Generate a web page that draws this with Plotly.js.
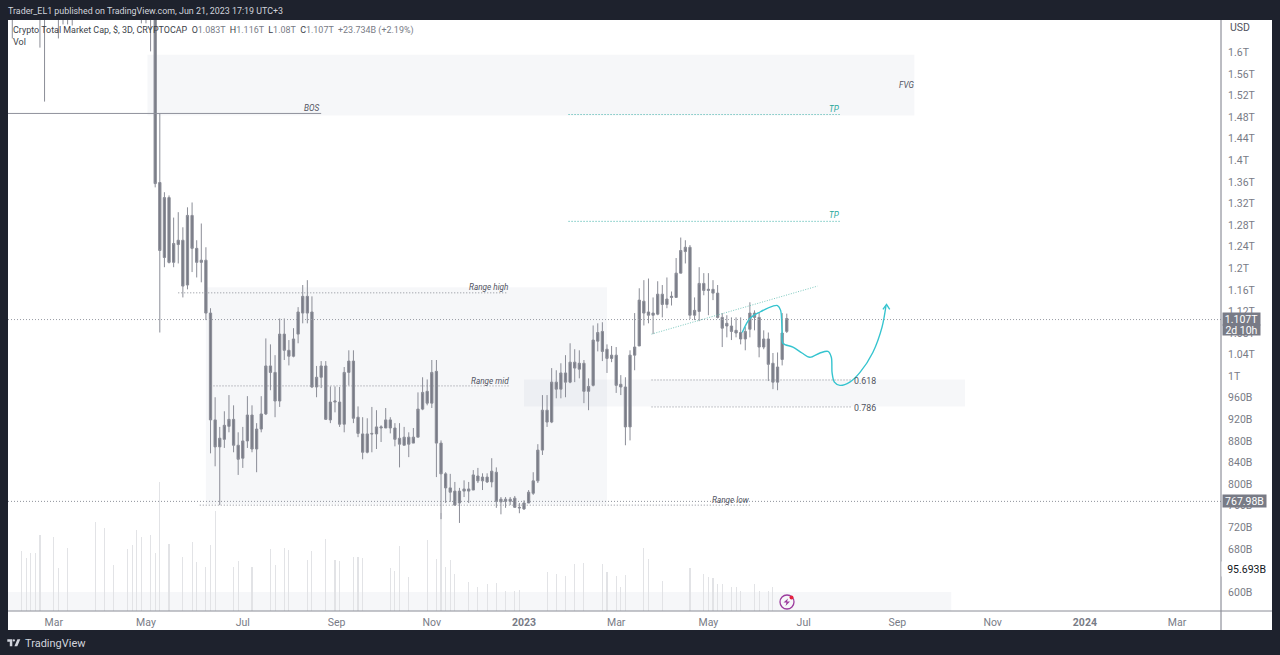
<!DOCTYPE html>
<html><head><meta charset="utf-8">
<script src="https://cdn.plot.ly/plotly-3.0.1.min.js"></script>
<style>html,body{margin:0;padding:0;background:#1e222d;overflow:hidden}#c{width:1280px;height:655px}</style>
</head><body><div id="c"></div>
<script>
// 3D candles, prices in billions of USD
const dates = [
"2022-02-02","2022-02-20","2022-02-23","2022-03-04","2022-03-07","2022-03-10","2022-03-13","2022-04-27","2022-04-30","2022-05-03",
"2022-05-06","2022-05-09","2022-05-12","2022-05-15","2022-05-18","2022-05-21","2022-05-24","2022-05-27","2022-05-30",
"2022-06-02","2022-06-05","2022-06-08","2022-06-11","2022-06-14","2022-06-17","2022-06-20","2022-06-23","2022-06-26","2022-06-29",
"2022-07-02","2022-07-05","2022-07-08","2022-07-11","2022-07-14","2022-07-17","2022-07-20","2022-07-23","2022-07-26","2022-07-29",
"2022-08-01","2022-08-04","2022-08-07","2022-08-10","2022-08-13","2022-08-16","2022-08-19","2022-08-22","2022-08-25","2022-08-28","2022-08-31",
"2022-09-03","2022-09-06","2022-09-09","2022-09-12","2022-09-15","2022-09-18","2022-09-21","2022-09-24","2022-09-27","2022-09-30",
"2022-10-03","2022-10-06","2022-10-09","2022-10-12","2022-10-15","2022-10-18","2022-10-21","2022-10-24","2022-10-27","2022-10-30",
"2022-11-02","2022-11-05","2022-11-08","2022-11-11","2022-11-14","2022-11-17","2022-11-20","2022-11-23","2022-11-26","2022-11-29",
"2022-12-02","2022-12-05","2022-12-08","2022-12-11","2022-12-14","2022-12-17","2022-12-20","2022-12-23","2022-12-26","2022-12-29",
"2023-01-01","2023-01-04","2023-01-07","2023-01-10","2023-01-13","2023-01-16","2023-01-19","2023-01-22","2023-01-25","2023-01-28","2023-01-31",
"2023-02-03","2023-02-06","2023-02-09","2023-02-12","2023-02-15","2023-02-18","2023-02-21","2023-02-24","2023-02-27",
"2023-03-02","2023-03-05","2023-03-08","2023-03-11","2023-03-14","2023-03-17","2023-03-20","2023-03-23","2023-03-26","2023-03-29",
"2023-04-01","2023-04-04","2023-04-07","2023-04-10","2023-04-13","2023-04-16","2023-04-19","2023-04-22","2023-04-25","2023-04-28",
"2023-05-01","2023-05-04","2023-05-07","2023-05-10","2023-05-13","2023-05-16","2023-05-19","2023-05-22","2023-05-25","2023-05-28","2023-05-31",
"2023-06-03","2023-06-06","2023-06-09","2023-06-12","2023-06-15","2023-06-18","2023-06-21"];
const opens = [1850,1850,1720,1800,1720,1730,1700,1760,1760,1800,
1700,1359,1220,1331,1211,1244,1252,1169,1298,1237,
1215,1215,1117,919,869,883,907,920,872,848,
880,928,865,902,930,1019,1007,954,1078,1048,
1037,1078,1117,1148,1119,980,998,1019,919,952,
952,911,1007,1028,924,893,859,894,893,904,
904,919,904,885,872,887,876,887,939,972,
950,1009,876,819,793,787,765,787,787,789,
815,806,813,804,822,767,772,768,774,757,
754,765,783,806,863,937,915,989,976,1006,
989,1026,1013,1024,972,983,1065,1083,1050,1033,
1039,985,980,906,1039,1056,1139,1119,1113,1115,
1152,1133,1146,1146,1191,1231,1239,1113,1120,1172,
1159,1161,1154,1109,1093,1093,1085,1081,1069,1087,
1117,1109,1054,1069,1024,989,1031,1083];
const highs = [1900,1890,1780,1850,1770,1770,1760,1800,1790,1860,
1720,1487,1341,1335,1294,1304,1276,1313,1322,1252,
1283,1239,1126,961,906,935,965,946,896,906,
963,946,913,963,1070,1059,1039,1107,1107,1067,
1089,1128,1169,1178,1148,1019,1028,1028,981,981,
980,1017,1048,1048,944,924,922,943,937,909,
941,924,913,913,906,896,904,970,998,994,
1030,1030,881,822,819,804,793,807,804,826,
830,820,820,848,831,776,776,776,778,765,
770,789,822,874,965,965,1015,1011,1024,1039,
1061,1050,1048,1030,996,1094,1098,1100,1059,1056,
1054,1002,998,1048,1117,1163,1178,1181,1146,1176,
1169,1183,1157,1219,1257,1252,1243,1146,1202,1191,
1191,1178,1169,1117,1113,1109,1109,1109,1091,1137,
1122,1119,1085,1081,1043,1044,1117,1116];
const lows = [1626,1609,1509,1626,1652,1652,1650,1654,1654,1602,
1350,1081,1202,1209,1202,1209,1146,1161,1193,1183,
1174,1104,857,833,761,867,896,859,817,830,
867,859,822,896,928,974,924,943,1030,1020,
1035,1061,1098,1098,978,961,978,919,913,933,
906,896,983,913,887,846,857,859,865,878,
904,894,870,831,872,850,876,887,937,946,
941,813,735,765,767,761,728,776,765,789,
802,789,802,794,756,744,756,761,756,746,
752,765,780,802,854,906,913,959,959,961,
987,989,996,950,937,981,1046,1028,1006,1026,
969,965,872,881,1011,1056,1094,1098,1078,1113,
1109,1126,1131,1146,1191,1209,1106,1104,1102,1150,
1113,1141,1107,1054,1072,1067,1072,1059,1048,1072,
1085,1035,1050,991,976,974,1020,1080];
const closes = [1780,1720,1670,1664,1664,1665,1668,1690,1700,1700,
1357,1233,1331,1211,1246,1252,1167,1298,1237,1211,
1211,1117,919,869,885,909,920,872,846,880,
928,865,902,930,1019,1007,954,1078,1048,1037,
1069,1119,1148,1117,980,998,1019,920,952,954,
911,1007,1028,922,894,859,893,893,906,906,
919,904,883,874,887,874,887,939,970,950,
1007,876,819,793,785,761,787,791,791,817,
806,813,804,824,768,772,768,772,757,756,
765,785,806,863,937,915,989,976,1006,989,
1026,1015,1024,972,981,1067,1081,1046,1033,1039,
983,980,906,1039,1054,1141,1117,1113,1117,1152,
1133,1143,1148,1191,1233,1239,1113,1122,1172,1159,
1161,1154,1109,1089,1098,1083,1080,1069,1083,1117,
1109,1054,1069,1022,989,1017,1080,1107];

// Volume bars that are visible in the reference, billions of USD
const volDates = ["2022-02-08","2022-02-11","2022-02-14","2022-02-17","2022-02-20","2022-03-01","2022-03-04","2022-03-10","2022-03-28","2022-04-03",
"2022-04-09","2022-04-18","2022-04-21","2022-04-24","2022-04-27","2022-05-03","2022-05-06","2022-05-09","2022-05-15","2022-05-24",
"2022-05-30","2022-06-02","2022-06-08","2022-06-11","2022-06-14","2022-06-26","2022-06-29","2022-07-08","2022-07-20","2022-07-23",
"2022-07-29","2022-08-01","2022-08-13","2022-08-16","2022-08-25","2022-08-31","2022-09-03","2022-09-12","2022-09-15","2022-09-18",
"2022-10-06","2022-10-09","2022-10-12","2022-10-18","2022-10-30","2022-11-05","2022-11-08","2022-11-11","2022-11-14","2022-11-17",
"2022-11-26","2022-12-02","2022-12-08","2022-12-14","2022-12-20","2022-12-26","2022-12-29","2023-01-16","2023-01-22","2023-01-28",
"2023-02-03","2023-02-09","2023-02-21","2023-02-24","2023-03-02","2023-03-05","2023-03-08","2023-03-20","2023-03-23","2023-04-01",
"2023-04-19","2023-04-28","2023-05-01","2023-05-04","2023-05-07","2023-05-10","2023-05-16","2023-05-19","2023-05-22","2023-05-31","2023-06-03","2023-06-09","2023-06-12"];
const volValues = [134,119,131,131,171,167,96,141,201,188,
104,140,149,182,167,171,130,291,151,121,
155,110,98,149,226,98,113,98,139,104,
141,137,115,134,162,115,113,121,121,120,
96,91,147,77,160,117,220,100,115,83,
66,53,61,62,44,46,47,87,83,79,
106,107,106,87,79,53,80,141,117,68,
96,83,76,75,60,60,53,53,44,61,44,46,55];

// Drawn levels and boxes
const fvgDates = ["2022-05-01","2023-09-12"], fvgPrices = [1596,1483];
const rangeDates = ["2022-06-08","2023-02-24"], rangePrices = [1165,763];
const fibDates = ["2023-01-01","2023-10-15"], fibPrices = [994,944];
const lowBoxDates = ["2022-01-30 05:00","2023-10-06"], lowBoxPrices = [564.8,600];
const xRange = ["2022-01-30 05:00","2024-03-29 14:00"], yRange = [564.8,1660.2];
const trendDates = ["2023-03-25","2023-07-11"], trendPrices = [1078,1167];
const pathDates = ["2023-05-23","2023-05-28","2023-06-03 14:00","2023-06-12","2023-06-15","2023-06-17","2023-06-17 22:00","2023-06-18 12:00","2023-06-25","2023-06-30 22:00","2023-07-06","2023-07-12 14:00","2023-07-17 19:00","2023-07-20","2023-07-20 12:00","2023-07-22","2023-07-25 14:00","2023-08-01","2023-08-07 16:00","2023-08-16","2023-08-22","2023-08-24 14:00"];
const pathPrices = [1081,1107,1119,1130,1131,1122,1085,1061,1054,1043,1035,1043,1046,1035,1006,989,983,989,1007,1044,1091,1131];
const arrowDates = ["2023-08-22 14:00","2023-08-24 22:00","2023-08-27"], arrowPrices = [1124,1133,1124];

const priceTicks = [600,640,680,720,760,800,840,880,920,960,1000,1040,1080,1120,1160,1200,1240,1280,1320,1360,1400,1440,1480,1520,1560,1600];
const priceLabels = ["600B","640B","680B","720B","760B","800B","840B","880B","920B","960B","1T","1.04T","1.08T","1.12T","1.16T","1.2T","1.24T","1.28T","1.32T","1.36T","1.4T","1.44T","1.48T","1.52T","1.56T","1.6T"];
const timeTicks = ["2022-03-01","2022-04-30","2022-07-02","2022-09-01","2022-11-02","2023-01-01","2023-03-02","2023-05-01","2023-07-02","2023-09-01","2023-11-02","2024-01-01","2024-03-01"];
const timeLabels = ["Mar","May","Jul","Sep","Nov","<b>2023</b>","Mar","May","Jul","Sep","Nov","<b>2024</b>","Mar"];

const candleColor = "#787b86", wickColor = "#8b8d97", teal = "#35c4cf";
const FONT = "Roboto, sans-serif";
const px = p => (p-8)/1213, py = p => (611-p)/591;

const traces = [
 {type:"bar",x:volDates,y:volValues,xaxis:"x",yaxis:"y",width:6.2e7,marker:{color:"#e2e3e6",line:{width:0}},hoverinfo:"skip"},
 {type:"candlestick",x:dates,open:opens,high:highs,low:lows,close:closes,xaxis:"x",yaxis:"y2",whiskerwidth:0,width:1.5e8,
  increasing:{line:{color:wickColor,width:1},fillcolor:candleColor},
  decreasing:{line:{color:wickColor,width:1},fillcolor:candleColor},hoverinfo:"skip"},
 {type:"scatter",mode:"lines",x:pathDates,y:pathPrices,xaxis:"x",yaxis:"y2",line:{color:teal,width:1.4,shape:"spline",smoothing:0.9},hoverinfo:"skip"},
 {type:"scatter",mode:"lines",x:arrowDates,y:arrowPrices,xaxis:"x",yaxis:"y2",line:{color:teal,width:1.4},hoverinfo:"skip"}
];

const fineDot = "1px,2px";
const box = (d,p) => ({type:"rect",xref:"x",yref:"y2",x0:d[0],x1:d[1],y0:p[0],y1:p[1],fillcolor:"rgba(120,130,160,0.065)",line:{width:0},layer:"below"});
const lvl = (a,b,y,color,dash,w) => ({type:"line",xref:"x",yref:"y2",x0:a,x1:b,y0:y,y1:y,line:{color:color,width:w||1,dash:dash||fineDot},layer:"above"});

const shapes = [
 {type:"rect",xref:"paper",yref:"paper",x0:0,x1:px(1272),y0:py(630),y1:1,fillcolor:"#ffffff",line:{width:0},layer:"below"},
 box(fvgDates,fvgPrices), box(rangeDates,rangePrices), box(fibDates,fibPrices), box(lowBoxDates,lowBoxPrices),
 lvl(xRange[0],"2022-08-22",1487,"#8f919c","solid"),
 lvl("2022-05-21","2022-12-21",1154.5,"#8a8d96"),
 lvl("2022-06-11","2022-12-22",982,"#8a8d96"),
 lvl("2022-06-04","2023-05-28",761,"#8a8d96"),
 lvl(xRange[0],xRange[1],767.98,"#8f929b"),
 lvl(xRange[0],xRange[1],1105,"#9a9da5"),
 lvl("2023-01-30","2023-07-26",1485,"#35aea4"),
 lvl("2023-01-30","2023-07-26",1287,"#35aea4"),
 lvl("2023-03-25","2023-08-02",993,"#8a8d96"),
 lvl("2023-03-25","2023-08-02",943,"#8a8d96"),
 {type:"line",xref:"x",yref:"y2",x0:trendDates[0],x1:trendDates[1],y0:trendPrices[0],y1:trendPrices[1],line:{color:"#7cc9bf",width:1,dash:"1px,1.5px"},layer:"above"},
 // axis frame
 {type:"line",xref:"paper",yref:"paper",x0:1,x1:1,y0:py(630),y1:1,line:{color:"#787b86",width:1},layer:"above"},
 {type:"line",xref:"paper",yref:"paper",x0:0,x1:px(1272),y0:0,y1:0,line:{color:"#8a8c96",width:1},layer:"above"},
 // bolt badge
 {type:"circle",xref:"paper",yref:"paper",x0:px(780),x1:px(794),y0:py(609),y1:py(595),line:{color:"#9c3b9e",width:1.3},fillcolor:"rgba(255,255,255,0)",layer:"above"},
 {type:"circle",xref:"paper",yref:"paper",x0:px(789.5),x1:px(793.5),y0:py(599.5),y1:py(595.5),line:{width:0},fillcolor:"#e5223f",layer:"above"},
 {type:"path",xref:"paper",yref:"paper",path:`M${px(788)},${py(598.5)} L${px(783.5)},${py(602.5)} L${px(786.5)},${py(602.5)} L${px(785.5)},${py(606)} L${px(790)},${py(601.5)} L${px(787)},${py(601.5)} Z`,fillcolor:"#9c3b9e",line:{width:0},layer:"above"},
 // TradingView mark
 {type:"path",xref:"paper",yref:"paper",path:`M${px(7.3)},${py(639.3)} H${px(12.3)} V${py(646.3)} H${px(9.8)} V${py(641.8)} H${px(7.3)} Z M${px(20.3)},${py(639.3)} L${px(17.3)},${py(646.3)} H${px(14.4)} L${px(17.4)},${py(639.3)} Z`,fillcolor:"#d1d4dc",line:{width:0},layer:"above"},
 {type:"circle",xref:"paper",yref:"paper",x0:px(12.7),x1:px(15),y0:py(641.6),y1:py(639.3),fillcolor:"#d1d4dc",line:{width:0},layer:"above"}
];

const txt = (x,y,text,size,color,o) => Object.assign({xref:"paper",yref:"paper",x:px(x),y:py(y),text:text,showarrow:false,xanchor:"left",yanchor:"middle",font:{family:FONT,size:size,color:color},borderpad:0},o||{});
const tag = (d,p,text,color) => ({xref:"x",yref:"y2",x:d,y:p,text:"<i>"+text+"</i>",showarrow:false,xanchor:"center",yanchor:"middle",font:{family:FONT,size:8.2,color:color||"#50535e"},borderpad:0});
const fibTag = (d,p,text) => ({xref:"x",yref:"y2",x:d,y:p,text:text,showarrow:false,xanchor:"center",yanchor:"middle",font:{family:FONT,size:8.8,color:"#50535e"},borderpad:0});
const G = "#787b86", K = "#3c3f4a";
const span = (c,t) => `<span style="color:${c}">${t}</span>`;

const annotations = [
 txt(6.5,11,"Trader_EL1 published on TradingView.com, Jun 21, 2023 17:19 UTC+3",8.9,"#d1d4dc"),
 txt(11.5,30,span(K,"Crypto Total Market Cap, $, 3D, CRYPTOCAP")+"  "+span(K,"O")+span(G,"1.083T")+"  "+span(K,"H")+span(G,"1.116T")+"  "+span(K,"L")+span(G,"1.08T")+"  "+span(K,"C")+span(G,"1.107T")+"  "+span(G,"+23.734B (+2.19%)"),8.95,G),
 txt(11.5,42,"Vol",9,K),
 tag("2022-08-16",1497,"BOS"), tag("2023-09-07",1540,"FVG"),
 tag("2023-07-22",1496,"TP","#26a69a"), tag("2023-07-22",1298,"TP","#26a69a"),
 tag("2022-12-09",1165,"Range high"), tag("2022-12-10",992,"Range mid"), tag("2023-05-16",770,"Range low"),
 fibTag("2023-08-11",991,"0.618"), fibTag("2023-08-11",941,"0.786"),
 txt(1228.5,28,"USD",10.5,"#50535e"),
 {xref:"paper",yref:"paper",x:px(1222),y:py(319),xanchor:"left",yanchor:"middle",width:37,height:12,text:"1.107T",align:"center",showarrow:false,bgcolor:"#787b86",borderpad:0,font:{family:FONT,size:10.5,color:"#ffffff"}},
 {xref:"paper",yref:"paper",x:px(1222),y:py(329.5),xanchor:"left",yanchor:"middle",width:37,height:10,text:"2d 10h",align:"center",showarrow:false,bgcolor:"#787b86",borderpad:0,font:{family:FONT,size:10.5,color:"#ffffff"}},
 {xref:"paper",yref:"y2",x:px(1222),y:767.98,xanchor:"left",yanchor:"middle",width:43,height:12,text:"767.98B",align:"center",showarrow:false,bgcolor:"#787b86",borderpad:0,font:{family:FONT,size:10.5,color:"#ffffff"}},
 {xref:"paper",yref:"y",x:px(1221),y:95.693,xanchor:"left",yanchor:"middle",width:44,height:14,text:"95.693B",align:"right",showarrow:false,bgcolor:"#ffffff",borderpad:0,font:{family:FONT,size:10.5,color:"#131722"}},
 txt(24,643.5,"TradingView",11,"#d1d4dc")
];

const layout = {
 width:1280,height:655,margin:{l:8,r:59,t:20,b:44,pad:0},
 paper_bgcolor:"#1e222d",plot_bgcolor:"rgba(255,255,255,0)",showlegend:false,bargap:0,
 font:{family:FONT,size:10.5,color:G},
 xaxis:{type:"date",range:xRange,rangeslider:{visible:false},showgrid:false,zeroline:false,showline:false,tickmode:"array",tickvals:timeTicks,ticktext:timeLabels,ticks:"outside",ticklen:1,tickcolor:"rgba(0,0,0,0)",tickfont:{family:FONT,size:10.5,color:G},fixedrange:true},
 yaxis:{range:[0,1330.7],visible:false,fixedrange:true},
 yaxis2:{overlaying:"y",side:"right",anchor:"x",range:yRange,showgrid:false,zeroline:false,showline:false,tickmode:"array",tickvals:priceTicks,ticktext:priceLabels,ticks:"outside",ticklen:4,tickcolor:"rgba(0,0,0,0)",tickfont:{family:FONT,size:10.5,color:G},fixedrange:true},
 shapes:shapes,annotations:annotations
};
Plotly.newPlot("c",traces,layout,{displayModeBar:false,staticPlot:true,responsive:false});
</script></body></html>
